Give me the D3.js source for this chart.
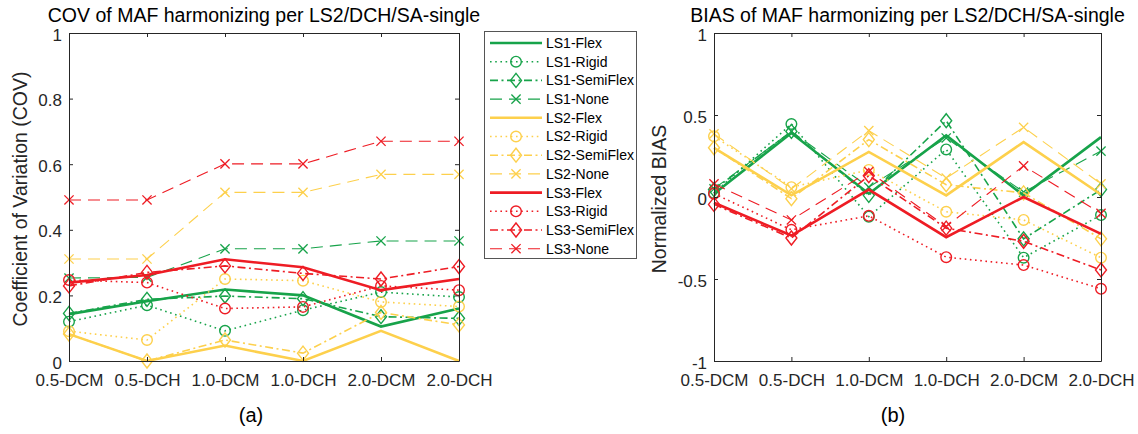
<!DOCTYPE html>
<html>
<head>
<meta charset="utf-8">
<script src="https://cdn.jsdelivr.net/npm/d3@7"></script>
<style>
  body { margin: 0; background: #fff; }
  svg { display: block; font-family: "Liberation Sans", Arial, Helvetica, sans-serif; }
</style>
</head>
<body>
<svg id="chart" width="1138" height="434"></svg>
<script>
// ---- data -------------------------------------------------------------
const categories = ["0.5-DCM", "0.5-DCH", "1.0-DCM", "1.0-DCH", "2.0-DCM", "2.0-DCH"];
const seriesNames = [
  "LS1-Flex", "LS1-Rigid", "LS1-SemiFlex", "LS1-None",
  "LS2-Flex", "LS2-Rigid", "LS2-SemiFlex", "LS2-None",
  "LS3-Flex", "LS3-Rigid", "LS3-SemiFlex", "LS3-None"
];

// coefficient of variation, one array per series
const covLS1Flex     = [0.143, 0.182, 0.218, 0.200, 0.105, 0.160];
const covLS1Rigid    = [0.120, 0.170, 0.092, 0.155, 0.210, 0.195];
const covLS1SemiFlex = [0.145, 0.188, 0.198, 0.190, 0.135, 0.130];
const covLS1None     = [0.253, 0.255, 0.342, 0.342, 0.366, 0.366];
const covLS2Flex     = [0.082, 0.000, 0.047, 0.000, 0.092, 0.000];
const covLS2Rigid    = [0.091, 0.064, 0.250, 0.245, 0.180, 0.166];
const covLS2SemiFlex = [0.082, 0.000, 0.064, 0.024, 0.148, 0.110];
const covLS2None     = [0.311, 0.311, 0.514, 0.514, 0.569, 0.569];
const covLS3Flex     = [0.239, 0.262, 0.310, 0.286, 0.216, 0.250];
const covLS3Rigid    = [0.247, 0.239, 0.160, 0.165, 0.229, 0.216];
const covLS3SemiFlex = [0.229, 0.270, 0.290, 0.267, 0.250, 0.288];
const covLS3None     = [0.491, 0.491, 0.601, 0.601, 0.670, 0.670];

// normalized bias, one array per series
const biasLS1Flex     = [0.020, 0.390, 0.020, 0.375, 0.010, 0.365];
const biasLS1Rigid    = [0.025, 0.445, -0.120, 0.290, -0.370, -0.110];
const biasLS1SemiFlex = [0.045, 0.400, 0.010, 0.465, -0.255, 0.045];
const biasLS1None     = [0.050, 0.400, 0.060, 0.360, 0.030, 0.280];
const biasLS2Flex     = [0.300, 0.010, 0.275, 0.010, 0.335, 0.015];
const biasLS2Rigid    = [0.370, 0.060, 0.165, -0.090, -0.140, -0.370];
const biasLS2SemiFlex = [0.300, -0.010, 0.350, 0.075, 0.025, -0.255];
const biasLS2None     = [0.385, 0.050, 0.405, 0.115, 0.425, 0.080];
const biasLS3Flex     = [-0.035, -0.235, 0.045, -0.245, 0.000, -0.225];
const biasLS3Rigid    = [0.020, -0.200, -0.115, -0.367, -0.415, -0.560];
const biasLS3SemiFlex = [-0.045, -0.250, 0.130, -0.190, -0.270, -0.445];
const biasLS3None     = [0.080, -0.140, 0.155, -0.180, 0.190, -0.100];

const covTicks  = [0, 0.2, 0.4, 0.6, 0.8, 1];
const covTickLabels  = ["0", "0.2", "0.4", "0.6", "0.8", "1"];
const biasTicks = [-1, -0.5, 0, 0.5, 1];
const biasTickLabels = ["-1", "-0.5", "0", "0.5", "1"];

const covSeries  = [covLS1Flex, covLS1Rigid, covLS1SemiFlex, covLS1None,
                    covLS2Flex, covLS2Rigid, covLS2SemiFlex, covLS2None,
                    covLS3Flex, covLS3Rigid, covLS3SemiFlex, covLS3None];
const biasSeries = [biasLS1Flex, biasLS1Rigid, biasLS1SemiFlex, biasLS1None,
                    biasLS2Flex, biasLS2Rigid, biasLS2SemiFlex, biasLS2None,
                    biasLS3Flex, biasLS3Rigid, biasLS3SemiFlex, biasLS3None];

// ---- styles -----------------------------------------------------------
const groupColor = { LS1: "#17a34a", LS2: "#fdd04c", LS3: "#ee1c24" };
const kindStyle = {
  Flex:     { width: 2.6, dash: null,          marker: null },
  Rigid:    { width: 1.6, dash: "1.6,3.6",     marker: "circle" },
  SemiFlex: { width: 1.6, dash: "8,3.5,2,3.5", marker: "diamond" },
  None:     { width: 1.1, dash: "12,7",        marker: "cross" }
};
function styleOf(name) {
  const [g, k] = name.split("-");
  return Object.assign({ color: groupColor[g], kind: k }, kindStyle[k]);
}

const svg = d3.select("#chart");
const textColor = "#262626";

function drawMarker(sel, type, cx, cy, color) {
  if (type === "circle") {
    sel.append("circle").attr("cx", cx).attr("cy", cy).attr("r", 5.3)
      .attr("fill", "none").attr("stroke", color).attr("stroke-width", 1.4);
  } else if (type === "diamond") {
    sel.append("path")
      .attr("d", `M${cx},${cy - 7}L${cx + 5.5},${cy}L${cx},${cy + 7}L${cx - 5.5},${cy}Z`)
      .attr("fill", "none").attr("stroke", color).attr("stroke-width", 1.4);
  } else if (type === "cross") {
    const s = 4.6;
    sel.append("path")
      .attr("d", `M${cx - s},${cy - s}L${cx + s},${cy + s}M${cx - s},${cy + s}L${cx + s},${cy - s}`)
      .attr("fill", "none").attr("stroke", color).attr("stroke-width", 1.3);
  }
}

function drawPanel(opt) {
  const x = d3.scalePoint().domain(categories).range([opt.x0, opt.x1]).padding(0);
  const y = d3.scaleLinear().domain(opt.domain).range([opt.y1, opt.y0]);
  const g = svg.append("g");

  // series, drawn in legend order so later ones sit on top
  opt.series.forEach((vals, i) => {
    const st = styleOf(seriesNames[i]);
    const pts = vals.map((v, j) => [x(categories[j]), y(v)]);
    g.append("path")
      .attr("d", d3.line()(pts))
      .attr("fill", "none")
      .attr("stroke", st.color)
      .attr("stroke-width", st.width)
      .attr("stroke-dasharray", st.dash)
      .attr("stroke-linejoin", "miter")
      .attr("stroke-linecap", "butt");
    if (st.marker) {
      const mg = g.append("g");
      pts.forEach(p => drawMarker(mg, st.marker, p[0], p[1], st.color));
    }
  });

  // axes: closed box with inward ticks
  const axisStyle = a => a.call(s => {
    s.selectAll("path.domain").attr("stroke", textColor).attr("stroke-width", 1);
    s.selectAll(".tick line").attr("stroke", textColor).attr("stroke-width", 1);
    s.selectAll(".tick text").attr("fill", textColor)
      .style("font-size", "17px").style("font-family", "Liberation Sans, Arial, sans-serif");
  });

  axisStyle(svg.append("g").attr("transform", `translate(0,${opt.y1})`)
    .call(d3.axisBottom(x).tickSizeInner(-4).tickSizeOuter(0).tickPadding(13)));
  axisStyle(svg.append("g").attr("transform", `translate(0,${opt.y0})`)
    .call(d3.axisTop(x).tickSizeInner(-4).tickSizeOuter(0).tickFormat("")));
  const yAxis = svg.append("g").attr("transform", `translate(${opt.x0},0)`)
    .call(d3.axisLeft(y).tickValues(opt.ticks).tickFormat((d, i) => opt.tickLabels[i])
      .tickSizeInner(-4).tickSizeOuter(0).tickPadding(7));
  axisStyle(yAxis);
  yAxis.selectAll(".tick text").attr("dy", "0.42em");
  axisStyle(svg.append("g").attr("transform", `translate(${opt.x1},0)`)
    .call(d3.axisRight(y).tickValues(opt.ticks).tickFormat("")
      .tickSizeInner(-4).tickSizeOuter(0)));

  // title, axis label, panel tag
  svg.append("text").attr("x", (opt.x0 + opt.x1) / 2).attr("y", 21.5)
    .attr("text-anchor", "middle").attr("fill", "#000")
    .style("font-size", "19.5px").text(opt.title);
  svg.append("text")
    .attr("transform", `translate(${opt.labelX},${(opt.y0 + opt.y1) / 2 + 2}) rotate(-90)`)
    .attr("text-anchor", "middle").attr("fill", textColor)
    .style("font-size", "19.5px").text(opt.ylabel);
  svg.append("text").attr("x", opt.tagX).attr("y", 422)
    .attr("text-anchor", "middle").attr("fill", "#000")
    .style("font-size", "20px").text(opt.tag);
}

drawPanel({
  x0: 69, x1: 459, y0: 33, y1: 361,
  domain: [0, 1], ticks: covTicks, tickLabels: covTickLabels,
  series: covSeries,
  title: "COV of MAF harmonizing per LS2/DCH/SA-single",
  ylabel: "Coefficient of Variation (COV)", labelX: 27,
  tag: "(a)", tagX: 251
});

drawPanel({
  x0: 714, x1: 1101, y0: 33, y1: 361,
  domain: [-1, 1], ticks: biasTicks, tickLabels: biasTickLabels,
  series: biasSeries,
  title: "BIAS of MAF harmonizing per LS2/DCH/SA-single",
  ylabel: "Normalized BIAS", labelX: 666,
  tag: "(b)", tagX: 893
});

// ---- legend -----------------------------------------------------------
const leg = svg.append("g");
leg.append("rect").attr("x", 484.5).attr("y", 31.5).attr("width", 152).attr("height", 227)
  .attr("fill", "#fff").attr("stroke", "#555").attr("stroke-width", 1);
seriesNames.forEach((name, i) => {
  const st = styleOf(name);
  const cy = 43 + i * 18.7;
  leg.append("line").attr("x1", 490).attr("x2", 542).attr("y1", cy).attr("y2", cy)
    .attr("stroke", st.color).attr("stroke-width", st.width)
    .attr("stroke-dasharray", st.dash);
  if (st.marker) drawMarker(leg, st.marker, 516, cy, st.color);
  leg.append("text").attr("x", 546).attr("y", cy).attr("dy", "0.35em")
    .attr("fill", "#000").style("font-size", "14px").text(name);
});
</script>
</body>
</html>
